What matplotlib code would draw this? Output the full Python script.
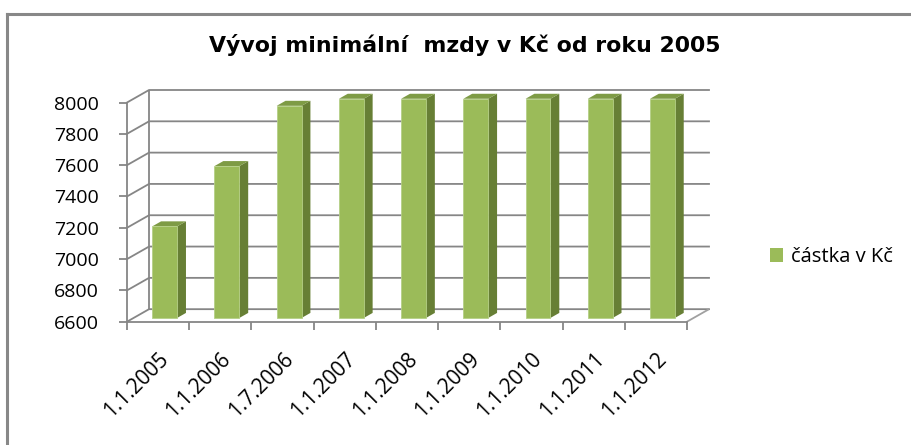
import matplotlib.pyplot as plt
from matplotlib.patches import Polygon
from matplotlib.lines import Line2D

dates = ['1.1.2005', '1.1.2006', '1.7.2006', '1.1.2007', '1.1.2008',
         '1.1.2009', '1.1.2010', '1.1.2011', '1.1.2012']
castka = [7185, 7570, 7955, 8000, 8000, 8000, 8000, 8000, 8000]
yticks = [6600, 6800, 7000, 7200, 7400, 7600, 7800, 8000]

ymin, ymax = 6600, 8000
n = len(dates)
# depth of the pseudo 3D box (in data units)
DX, DY = 0.354, 80
grid_c = '#868686'

fig = plt.figure(figsize=(9.12, 4.45), dpi=100)
ax = fig.add_axes([127 / 912, (445 - 321.7) / 445, (709 - 127) / 912, (321.7 - 90) / 445])
ax.set_xlim(0, n + DX)
ax.set_ylim(ymin, ymax + DY)

# walls: back gridlines + left side diagonals
for v in yticks:
    ax.plot([0, DX, n + DX], [v, v + DY, v + DY], color=grid_c, lw=1.3, clip_on=False, zorder=1)
ax.plot([DX, DX], [ymin + DY, ymax + DY], color=grid_c, lw=1.3, zorder=1)
# floor
ax.plot([n, n + DX], [ymin, ymin + DY], color='#a0a0a0', lw=1.3, zorder=1)

# bars
w = 0.4
d0, d1 = 0.3, 0.7
for i, v in enumerate(castka):
    x0 = i + 0.3 + DX * d0
    x1 = x0 + w
    yb = ymin + DY * d0
    yt = v + DY * d0
    sx = DX * (d1 - d0)
    sy = DY * (d1 - d0)
    ax.add_patch(Polygon([(x1, yb), (x1 + sx, yb + sy), (x1 + sx, yt + sy), (x1, yt)],
                         closed=True, fc='#677F35', ec='none', zorder=3))
    ax.add_patch(Polygon([(x0, yt), (x1, yt), (x1 + sx, yt + sy), (x0 + sx, yt + sy)],
                         closed=True, fc='#7E9B45', ec='none', zorder=3))
    ax.add_patch(Polygon([(x0, yb), (x1, yb), (x1, yt), (x0, yt)],
                         closed=True, fc='#9BBB59', ec='#b5cf86', lw=0.6, zorder=4))

for s in ['top', 'right']:
    ax.spines[s].set_visible(False)
ax.spines['left'].set_bounds(ymin, ymax)
ax.spines['bottom'].set_bounds(0, n)
for s in ['left', 'bottom']:
    ax.spines[s].set_color(grid_c)
    ax.spines[s].set_linewidth(1.3)

ax.set_yticks(yticks)
ax.set_yticklabels([str(t) for t in yticks], fontsize=14, family='Open Sans')
ax.set_xticks(range(n + 1))
ax.set_xticklabels([])
ax.set_xticks([i + 0.5 for i in range(n)], minor=True)
ax.set_xticklabels(dates, minor=True, rotation=45, ha='right', rotation_mode='anchor',
                   fontsize=15, family='Open Sans')
ax.tick_params(axis='both', which='major', length=6, width=1.3, color=grid_c)
ax.tick_params(axis='x', which='minor', length=0, pad=19)
ax.tick_params(axis='y', pad=14)

fig.text(465 / 912, 1 - 45.5 / 445, 'Vývoj minimální  mzdy v Kč od roku 2005', ha='center', va='center',
         fontsize=15.8, fontweight='bold', family='DejaVu Sans')

handle = Polygon([(0, 0)], fc='#9BBB59', ec='none')
fig.legend([handle], ['částka v Kč'], loc='center left', bbox_to_anchor=(752 / 912, 1 - 257 / 445),
           frameon=False, prop={'family': 'Open Sans', 'size': 14.5}, handlelength=0.65,
           handleheight=0.65, handletextpad=0.4)

# chart border (top and left visible)
fig.add_artist(Line2D([7 / 912, 7 / 912], [0, 1 - 14 / 445], color='#888888', lw=2.2))
fig.add_artist(Line2D([7 / 912, 1], [1 - 14 / 445, 1 - 14 / 445], color='#888888', lw=2.2))

fig.savefig('out.png', dpi=100)
